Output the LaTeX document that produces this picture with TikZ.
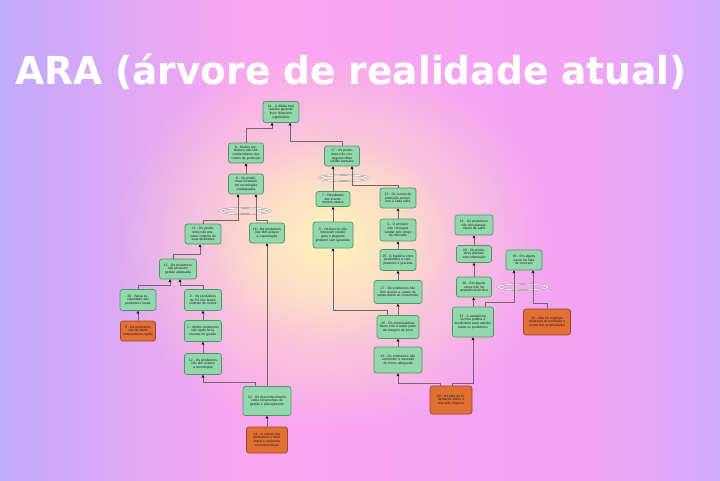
\documentclass[tikz,border=0pt]{standalone}
\usepackage{fontspec}
\setmainfont{Liberation Sans}
\newfontfamily\titlefont{DejaVu Sans}
\usetikzlibrary{arrows.meta,fadings,calc}
\definecolor{bgL}{RGB}{192,170,250}
\definecolor{bgM}{RGB}{250,166,240}
\definecolor{bgN}{RGB}{242,164,244}
\definecolor{bgR}{RGB}{208,170,250}
\definecolor{bgY}{RGB}{255,244,186}
\definecolor{gfill}{RGB}{146,216,172}
\definecolor{gdraw}{RGB}{78,150,102}
\definecolor{ofill}{RGB}{226,112,52}
\definecolor{odraw}{RGB}{150,72,40}
\definecolor{lnc}{RGB}{112,104,110}
\pgfdeclarehorizontalshading{bgsh}{100bp}{color(0bp)=(bgL); color(25bp)=(bgL); color(42bp)=(bgM); color(66bp)=(bgN); color(75bp)=(bgR); color(100bp)=(bgR)}
\tikzfading[name=radfade, inner color=transparent!0, outer color=transparent!100]
\tikzset{
  gbox/.style 2 args={rectangle, rounded corners=2.5pt, draw=gdraw, fill=gfill, line width=0.7pt,
    minimum width=#1pt, minimum height=#2pt, text width=#1pt-4pt, inner xsep=2pt, inner ysep=0.5pt,
    align=center, font=\fontsize{3.3}{3.8}\selectfont, text=black!90},
  obox/.style 2 args={gbox={#1}{#2}, draw=odraw, fill=ofill},
  arr/.style={draw=lnc, line width=0.7pt, -{Stealth[length=3pt,width=3pt,color=black]}},
  andring/.style={draw=lnc!80, line width=0.35pt, double=white, double distance=0.9pt}
}
\begin{document}
\begin{tikzpicture}[x=1pt,y=-1pt]
\useasboundingbox (0,0) rectangle (720,480);
\shade[shading=bgsh] (0,0) rectangle (720,480);
\fill[bgY, path fading=radfade, opacity=0.9] (330,240) ellipse [x radius=220, y radius=190];
\fill[bgY, path fading=radfade, opacity=0.7] (330,240) ellipse [x radius=120, y radius=100];

\node[anchor=base west, text=white, inner sep=0pt] (title) at (15,84)
  {\scalebox{0.975}[1]{\titlefont\fontsize{38.5}{38.5}\selectfont\bfseries ARA (árvore de realidade atual)}};

% AND rings
\draw[andring] (245,211) ellipse [x radius=25, y radius=3];
\draw[andring] (344,178) ellipse [x radius=25, y radius=3];
\draw[andring] (523,287) ellipse [x radius=25, y radius=3];

% nodes - left/center
\node[gbox={36}{21}] (n14) at (281,112) {14 - A dívida total reduziu gerando fluxo financeiro significativo};
\node[gbox={35}{20}] (n6) at (246,153) {6 - Muitos produtores não têm conhecimento dos custos de produção};
\node[gbox={35}{20}] (n8) at (246,184) {8 - Os produtores investem em tecnologias inadequadas};
\node[gbox={35}{20}] (n17) at (342,156) {17 - Os produtores não conseguem obter crédito bancário};
\node[gbox={34}{15}] (n7) at (333,199) {7 - Resultados dos investimentos abaixo};
\node[gbox={36}{20}] (n23) at (398,198) {23 - Os custos de produção aumentam a cada safra};
\node[gbox={40}{26}] (n5) at (333,235) {5 - Os bancos não fornecem crédito para o pequeno produtor sem garantias};
\node[gbox={36}{22}] (n4) at (398,230) {4 - O produtor não consegue vender pelo preço de mercado};
\node[gbox={36}{21}] (n25) at (398,260) {25 - A logística entre produtores e compradores é precária};
\node[gbox={48}{23}] (n27) at (398,292) {27 - Os produtores não têm acesso a canais de venda direta ao consumidor};
\node[gbox={42}{23}] (n26) at (398,327) {26 - Os intermediários ficam com a maior parte da margem de lucro};
\node[gbox={48}{26}] (n28) at (398,360) {28 - Os produtores não conhecem o mercado de forma adequada};
\node[obox={42}{28}] (n29) at (451,400) {29 - Há falta de informação sobre o mercado regional};
% right cluster
\node[gbox={38}{20}] (n21) at (474,225) {21 - Os produtores não têm planejamento de safra};
\node[gbox={35}{17}] (n19) at (474,254) {19 - Os produtores plantam sem orientação};
\node[gbox={35}{20}] (n10) at (474,287) {10 - Em alguns casos não há assistência técnica};
\node[gbox={41}{30}] (n32) at (473,322) {32 - A assistência técnica pública é insuficiente para atender todos os produtores};
\node[gbox={36}{20}] (n18) at (524,260) {18 - Em alguns casos há falta de recursos};
\node[obox={47}{26}] (n33) at (547,322) {33 - Não há registros históricos de produção e custos das propriedades};
% left cluster
\node[gbox={36}{20}] (n11) at (203,234) {11 - Os produtores não possuem controle de suas atividades};
\node[gbox={35}{20}] (n16) at (267,233) {16 - Os produtores não têm acesso a capacitação};
\node[gbox={37}{20}] (n15) at (178,269) {15 - Os produtores não possuem gestão adequada};
\node[gbox={36}{21}] (n20) at (138,300) {20 - Baixa escolaridade dos produtores rurais};
\node[obox={35}{20}] (n9) at (138,331) {9 - Os produtores são de idade avançada na região};
\node[gbox={37}{21}] (n2) at (203,300) {2 - Os produtores de P4 não fazem controle de custos};
\node[gbox={37}{21}] (n1) at (203,331) {1 - Muitos produtores não usam ferramentas de gestão};
\node[gbox={37}{21}] (n12) at (203,364) {12 - Os produtores não têm acesso a tecnologias};
\node[gbox={48}{29}] (n22) at (267,401) {22 - Há desconhecimento sobre ferramentas de gestão e planejamento};
\node[obox={41}{26}] (n24) at (267,440) {24 - A cultura dos produtores é tradicional e resistente a novas práticas};

% connectors
\draw[arr] (n8) -- (n6);
\draw[arr] (n6.north) -- (n6.north |- 0,128) -| ([xshift=-9pt]n14.south);
\draw[arr] (n17.north) -- (n17.north |- 0,141) -| ([xshift=9pt]n14.south);
\draw[arr] (n7.north) -- (n7.north |- n17.south);
\draw[arr] (n23.north) -- (n23.north |- 0,185) -| ([xshift=10pt]n17.south);
\draw[arr] (n5) -- (n7);
\draw[arr] (n4) -- (n23);
\draw[arr] (n25) -- (n4);
\draw[arr] (n27) -- (n25);
\draw[arr] (n26) -- (n27);
\draw[arr] (n28) -- (n26);
\draw[arr] ([xshift=-11pt]n26.north) -- ([xshift=-11pt]n26.north |- 0,310) -| (n5.south);
\draw[arr] ([xshift=-11pt]n29.north) -- ([xshift=-11pt]n29.north |- 0,383) -| (n28.south);
\draw[arr] ([xshift=1pt]n29.north) -- ([xshift=1pt]n29.north |- 0,383) -| (n32.south);
\draw[arr] (n32) -- (n10);
\draw[arr] (n10) -- (n19);
\draw[arr] (n19) -- (n21);
\draw[arr] ([xshift=12pt]n32.north) -- ([xshift=12pt]n32.north |- 0,302) -| ([xshift=-10pt]n18.south);
\draw[arr] (n33.north) -- (n33.north |- 0,303) -| ([xshift=9pt]n18.south);
\draw[arr] (n11.north) -- (n11.north |- 0,220) -| ([xshift=-8pt]n8.south);
\draw[arr] (n16.north) -- (n16.north |- 0,220) -| ([xshift=10pt]n8.south);
\draw[arr] ([xshift=-5pt]n15.north) -- ([xshift=-5pt]n15.north |- 0,254) -| ([xshift=-3pt]n11.south);
\draw[arr] (n20.north) -- (n20.north |- 0,285) -| ([xshift=-8pt]n15.south);
\draw[arr] (n2.north) -- (n2.north |- 0,285) -| ([xshift=2pt]n15.south);
\draw[arr] (n9) -- (n20);
\draw[arr] (n1) -- (n2);
\draw[arr] (n12) -- (n1);
\draw[arr] ([xshift=-12pt]n22.north) -- ([xshift=-12pt]n22.north |- 0,382) -| (n12.south);
\draw[arr] (n22) -- (n16);
\draw[arr] (n24) -- (n22);
\end{tikzpicture}
\end{document}
